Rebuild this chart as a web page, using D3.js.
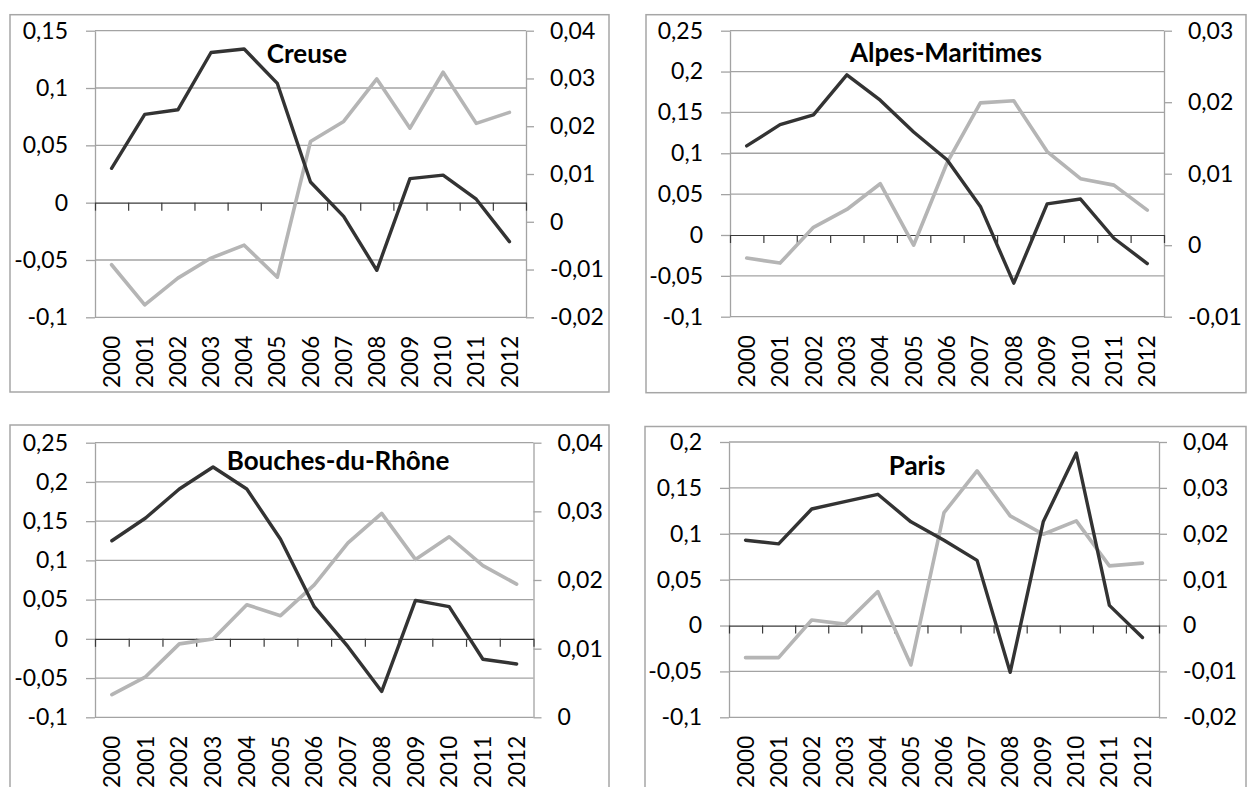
<!DOCTYPE html>
<html>
<head>
<meta charset="utf-8">
<script src="https://cdn.jsdelivr.net/npm/d3@7"></script>
<style>
  html, body { margin: 0; padding: 0; background: #fff; }
  svg { display: block; }
  text { font-family: Lato, "Open Sans", sans-serif; fill: #000; }
</style>
</head>
<body>
<svg id="chart" width="1247" height="787"></svg>
<script>
// ---------- DATA ----------
const years = ["2000","2001","2002","2003","2004","2005","2006","2007","2008","2009","2010","2011","2012"];

const creuseDark = [0.030, 0.077, 0.081, 0.131, 0.134, 0.104, 0.018, -0.012, -0.059, 0.021, 0.024, 0.003, -0.034];
const creuseGray = [-0.0090, -0.0174, -0.0118, -0.0076, -0.0049, -0.0116, 0.0168, 0.0210, 0.0299, 0.0196, 0.0313, 0.0206, 0.0229];
const creuseLeftTicks = [-0.1, -0.05, 0, 0.05, 0.1, 0.15];
const creuseRightTicks = [-0.02, -0.01, 0, 0.01, 0.02, 0.03, 0.04];

const alpesDark = [0.109, 0.135, 0.147, 0.196, 0.165, 0.126, 0.092, 0.035, -0.059, 0.038, 0.044, -0.004, -0.035];
const alpesGray = [-0.0018, -0.0025, 0.0025, 0.0050, 0.0086, 0.0000, 0.0115, 0.0199, 0.0202, 0.0131, 0.0093, 0.0084, 0.0049];
const alpesLeftTicks = [-0.1, -0.05, 0, 0.05, 0.1, 0.15, 0.2, 0.25];
const alpesRightTicks = [-0.01, 0, 0.01, 0.02, 0.03];

const bouchesDark = [0.125, 0.154, 0.191, 0.219, 0.191, 0.127, 0.041, -0.010, -0.067, 0.049, 0.041, -0.026, -0.032];
const bouchesGray = [0.0033, 0.0059, 0.0107, 0.0114, 0.0164, 0.0148, 0.0193, 0.0254, 0.0297, 0.0230, 0.0263, 0.0221, 0.0194];
const bouchesLeftTicks = [-0.1, -0.05, 0, 0.05, 0.1, 0.15, 0.2, 0.25];
const bouchesRightTicks = [0, 0.01, 0.02, 0.03, 0.04];

const parisDark = [0.093, 0.089, 0.127, 0.135, 0.143, 0.113, 0.093, 0.071, -0.051, 0.113, 0.188, 0.022, -0.013];
const parisGray = [-0.0070, -0.0070, 0.0012, 0.0003, 0.0074, -0.0086, 0.0246, 0.0337, 0.0239, 0.0199, 0.0228, 0.0130, 0.0136];
const parisLeftTicks = [-0.1, -0.05, 0, 0.05, 0.1, 0.15, 0.2];
const parisRightTicks = [-0.02, -0.01, 0, 0.01, 0.02, 0.03, 0.04];

const titles = ["Creuse", "Alpes-Maritimes", "Bouches-du-Rhône", "Paris"];

// ---------- LAYOUT ----------
const panels = [
  { title: titles[0], dark: creuseDark, gray: creuseGray, lt: creuseLeftTicks, rt: creuseRightTicks,
    box: [10, 14.7, 609, 392], plot: [95, 526, 30.7, 317.3], tpos: [307, 63] },
  { title: titles[1], dark: alpesDark, gray: alpesGray, lt: alpesLeftTicks, rt: alpesRightTicks,
    box: [646, 14.7, 1246, 392.7], plot: [730, 1164, 30.7, 316.7], tpos: [946, 61.7] },
  { title: titles[2], dark: bouchesDark, gray: bouchesGray, lt: bouchesLeftTicks, rt: bouchesRightTicks,
    box: [10, 425, 609, 800], plot: [95, 533.5, 442.7, 717.3], tpos: [338, 470] },
  { title: titles[3], dark: parisDark, gray: parisGray, lt: parisLeftTicks, rt: parisRightTicks,
    box: [645, 426.5, 1246, 800], plot: [729, 1159, 442, 717.3], tpos: [917, 475] }
];

const fmt = d => (Math.round(d * 1000) / 1000).toString().replace('.', ',');
const GRID = "#a3a3a3", DARK = "#333333", LIGHT = "#b5b5b5";
const TICK_FONT = "23px", CAT_FONT = "22.5px", TITLE_FONT = "26px";

const svg = d3.select("#chart");

panels.forEach(p => {
  const [l, r, t, b] = p.plot;
  const g = svg.append("g");

  // border
  g.append("rect")
    .attr("x", p.box[0]).attr("y", p.box[1])
    .attr("width", p.box[2] - p.box[0]).attr("height", p.box[3] - p.box[1])
    .attr("fill", "none").attr("stroke", "#a6a6a6").attr("stroke-width", 1.5);

  const x = d3.scaleBand().domain(years).range([l, r]).padding(0);
  const xi = d3.scaleLinear().domain([0, years.length]).range([l, r]);
  const yL = d3.scaleLinear().domain(d3.extent(p.lt)).range([b, t]);
  const yR = d3.scaleLinear().domain(d3.extent(p.rt)).range([b, t]);

  // gridlines (from left ticks)
  g.append("g").selectAll("line").data(p.lt.filter(v => v !== 0)).join("line")
    .attr("x1", l).attr("x2", r)
    .attr("y1", d => yL(d)).attr("y2", d => yL(d))
    .attr("stroke", GRID).attr("stroke-width", 1.3);

  // left axis
  const la = g.append("g").attr("transform", `translate(${l},0)`)
    .call(d3.axisLeft(yL).tickValues(p.lt).tickSize(9).tickSizeOuter(0).tickPadding(18).tickFormat(fmt));
  la.select(".domain").attr("stroke", GRID).attr("stroke-width", 1.3);
  la.selectAll(".tick line").attr("stroke", GRID).attr("stroke-width", 1.3);
  la.selectAll(".tick text").style("font-size", TICK_FONT).style("font-family", "Lato").attr("fill", "#000");

  // right axis
  const ra = g.append("g").attr("transform", `translate(${r},0)`)
    .call(d3.axisRight(yR).tickValues(p.rt).tickSize(8).tickSizeOuter(0).tickPadding(16).tickFormat(fmt));
  ra.select(".domain").attr("stroke", GRID).attr("stroke-width", 1.3);
  ra.selectAll(".tick line").attr("stroke", GRID).attr("stroke-width", 1.3);
  ra.selectAll(".tick text").style("font-size", TICK_FONT).style("font-family", "Lato").attr("fill", "#000");

  // zero line with category ticks
  const za = g.append("g").attr("transform", `translate(0,${yL(0)})`)
    .call(d3.axisBottom(xi).tickValues(d3.range(years.length + 1)).tickSize(8).tickSizeOuter(0).tickFormat(""));
  za.select(".domain").attr("stroke", "#3a3a3a").attr("stroke-width", 1.2);
  za.selectAll(".tick line").attr("stroke", "#3a3a3a").attr("stroke-width", 1.2);

  // category labels
  g.append("g").selectAll("text").data(years).join("text")
    .attr("transform", d => `translate(${x(d) + x.bandwidth() / 2},${b + 18.5}) rotate(-90)`)
    .attr("text-anchor", "end").attr("dy", "0.36em")
    .style("font-size", CAT_FONT)
    .text(d => d);

  // lines
  const lineL = d3.line().x((d, i) => x(years[i]) + x.bandwidth() / 2).y(d => yL(d));
  const lineR = d3.line().x((d, i) => x(years[i]) + x.bandwidth() / 2).y(d => yR(d));

  g.append("path").datum(p.gray).attr("d", lineR)
    .attr("fill", "none").attr("stroke", LIGHT).attr("stroke-width", 3.6)
    .attr("stroke-linejoin", "round").attr("stroke-linecap", "round");
  g.append("path").datum(p.dark).attr("d", lineL)
    .attr("fill", "none").attr("stroke", DARK).attr("stroke-width", 3.4)
    .attr("stroke-linejoin", "round").attr("stroke-linecap", "round");

  // title
  g.append("text").attr("x", p.tpos[0]).attr("y", p.tpos[1])
    .attr("text-anchor", "middle")
    .style("font-size", TITLE_FONT).style("font-weight", "bold")
    .text(p.title);
});
</script>
</body>
</html>
